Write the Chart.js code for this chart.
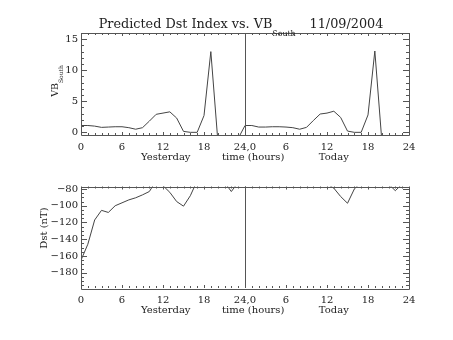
<!DOCTYPE html>
<html>
<head>
<meta charset="utf-8">
<script src="https://cdn.jsdelivr.net/npm/chart.js"></script>
<style>
  html, body { margin: 0; padding: 0; background: #fff; }
  #wrap { position: relative; width: 453px; height: 340px; }
  canvas { position: absolute; left: 0; }
</style>
</head>
<body>
<div id="wrap">
  <canvas id="top" width="453" height="170" style="top:0"></canvas>
  <canvas id="bot" width="453" height="170" style="top:170px"></canvas>
</div>
<script>
// hours from start of yesterday (0..48)
const hours = [0,1,2,3,4,5,6,7,8,9,10,11,12,13,14,15,16,17,18,19,20,21,22,23,
               24,25,26,27,28,29,30,31,32,33,34,35,36,37,38,39,40,41,42,43,44,45,46,47,48];
const vbSouth = [1.1,1.1,1.0,0.8,0.85,0.9,0.9,0.75,0.5,0.75,1.8,2.9,3.1,3.3,2.3,0.15,0,0,2.7,13.0,-1,-1,-1,-1,
                 1.1,1.1,0.85,0.85,0.9,0.9,0.85,0.75,0.5,0.8,1.9,2.95,3.1,3.4,2.4,0.2,0,0,2.8,13.1,-1,-1,-1,-1,-1];
const dst = [-165,-146,-117,-105.5,-108,-100,-96.5,-93,-90.5,-87,-83,-70,-76,-84,-95,-100.5,-88,-70,-70,-70,-72,-72,-83,-72,
             -70,-70,-70,-70,-70,-70,-70,-70,-70,-70,-70,-72,-74,-79,-89,-97,-80,-72,-72,-72,-72,-74,-82,-74,-72];
const xTicks = [0,6,12,18,24,30,36,42,48];
const xTickLabels = ["0","6","12","18","24,0","6","12","18","24"];
const vbTicks = [0,5,10,15];
const dstTicks = [-180,-160,-140,-120,-100,-80];

const FONT = "'DejaVu Serif', serif";
const INK = "#222";

function makeChart(id, values, yMin, yMax, yTicks, yMinorStep, padTop, xHeight, extra) {
  const minorX = hours.slice();
  const minorY = [];
  for (let v = Math.ceil(yMin / yMinorStep) * yMinorStep; v <= yMax; v += yMinorStep) minorY.push(v);

  const frame = {
    id: "frame",
    afterDatasetsDraw(chart) {
      const c = chart.ctx, a = chart.chartArea;
      const xs = chart.scales.x, ys = chart.scales.y;
      c.save();
      c.strokeStyle = "#555";
      c.lineWidth = 1;
      c.beginPath();
      c.rect(Math.round(a.left) + 0.5, Math.round(a.top) + 0.5,
             Math.round(a.right - a.left), Math.round(a.bottom - a.top));
      // divider at 24h
      const xm = Math.round(xs.getPixelForValue(24)) + 0.5;
      c.moveTo(xm, a.top); c.lineTo(xm, a.bottom);
      // x ticks (bottom and top, inward)
      minorX.forEach(h => {
        const px = Math.round(xs.getPixelForValue(h)) + 0.5;
        const len = xTicks.includes(h) ? 3 : 2;
        c.moveTo(px, a.bottom); c.lineTo(px, a.bottom - len);
        c.moveTo(px, a.top); c.lineTo(px, a.top + len);
      });
      // y ticks (left and right, inward)
      minorY.forEach(v => {
        const py = Math.round(ys.getPixelForValue(v)) + 0.5;
        const len = yTicks.includes(v) ? 6 : 3;
        c.moveTo(a.left, py); c.lineTo(a.left + len, py);
        c.moveTo(a.right, py); c.lineTo(a.right - len, py);
      });
      c.stroke();

      // axis titles under x axis
      c.fillStyle = INK;
      c.font = "10px " + FONT;
      c.textAlign = "center";
      c.textBaseline = "alphabetic";
      const yl = a.bottom + 25;
      c.fillText("Yesterday", xs.getPixelForValue(12.4), yl);
      c.fillText("time (hours)", xs.getPixelForValue(25.2), yl);
      c.fillText("Today", xs.getPixelForValue(37), yl);
      c.restore();
      extra(chart);
    }
  };

  return new Chart(document.getElementById(id), {
    type: "line",
    data: {
      datasets: [{
        data: hours.map((h, i) => ({ x: h, y: values[i] })),
        borderColor: "#444",
        borderWidth: 1,
        pointRadius: 0,
        tension: 0,
        fill: false,
        clip: 0
      }]
    },
    options: {
      responsive: false,
      animation: false,
      layout: { padding: { left: 0, right: 44, top: padTop, bottom: 0 } },
      plugins: { legend: { display: false }, tooltip: { enabled: false }, title: { display: false } },
      scales: {
        x: {
          type: "linear", min: 0, max: 48,
          grid: { display: false, drawTicks: false },
          border: { display: false },
          afterBuildTicks: s => { s.ticks = xTicks.map(v => ({ value: v })); },
          afterFit: s => { s.height = xHeight; },
          ticks: {
            autoSkip: false, maxRotation: 0, padding: 6, color: INK,
            font: { family: FONT, size: 10 },
            callback: (v) => xTickLabels[xTicks.indexOf(v)]
          }
        },
        y: {
          min: yMin, max: yMax,
          grid: { display: false, drawTicks: false },
          border: { display: false },
          afterBuildTicks: s => { s.ticks = yTicks.map(v => ({ value: v })); },
          afterFit: s => { s.width = 81; },
          ticks: {
            autoSkip: false, padding: 3, color: INK,
            font: { family: FONT, size: 10 },
            callback: (v) => String(v).replace("-", "\u2212")
          }
        }
      }
    },
    plugins: [frame]
  });
}

// top panel: VB south
makeChart("top", vbSouth, -0.43, 16, vbTicks, 1, 33, 35, chart => {
  const c = chart.ctx;
  c.save();
  c.fillStyle = INK;
  // title with subscript
  const main = "Predicted Dst Index vs. VB", sub = "South", date = "11/09/2004";
  const big = "12.8px " + FONT, small = "7.8px " + FONT;
  c.font = big;
  const wMain = c.measureText(main).width;
  const wDate = c.measureText(date).width;
  c.font = small;
  const wSub = c.measureText(sub).width;
  const gap = 14;
  const x = 241 - (wMain + wSub + gap + wDate) / 2;
  c.textAlign = "left";
  c.textBaseline = "alphabetic";
  c.font = big;
  c.fillText(main, x, 28);
  c.font = small;
  c.fillText(sub, x + wMain, 36);
  c.font = big;
  c.fillText(date, x + wMain + wSub + gap, 28);

  // rotated y title
  c.translate(58, 81);
  c.rotate(-Math.PI / 2);
  c.font = "9.5px " + FONT;
  const wv = c.measureText("VB").width;
  c.font = "6px " + FONT;
  const ws = c.measureText("South").width;
  const x0 = -(wv + ws) / 2;
  c.font = "9.5px " + FONT;
  c.fillText("VB", x0, 0);
  c.font = "6px " + FONT;
  c.fillText("South", x0 + wv, 4.5);
  c.restore();
});

// bottom panel: Dst
makeChart("bot", dst, -198.3, -77, dstTicks, 5, 16.5, 52, chart => {
  const c = chart.ctx;
  c.save();
  c.fillStyle = INK;
  c.translate(47, 58);
  c.rotate(-Math.PI / 2);
  c.font = "10px " + FONT;
  c.textAlign = "center";
  c.textBaseline = "alphabetic";
  c.fillText("Dst (nT)", 0, 0);
  c.restore();
});
</script>
</body>
</html>
